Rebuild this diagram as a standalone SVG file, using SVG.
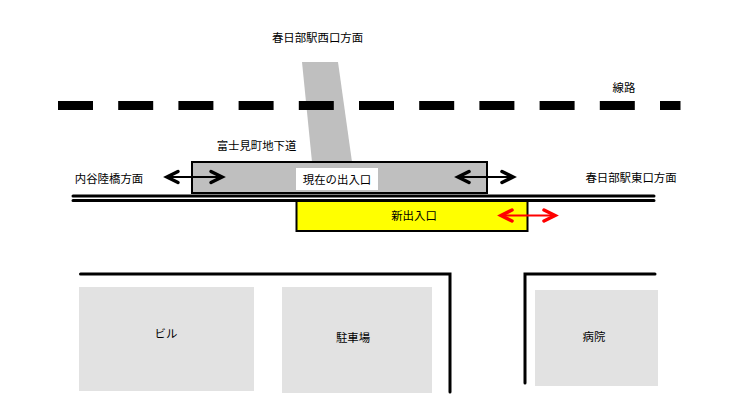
<svg xmlns="http://www.w3.org/2000/svg" width="740" height="413" viewBox="0 0 740 413">
<style>
text{font-family:"Noto Sans CJK JP","Noto Sans",sans-serif;font-size:11.4px;fill:#000;text-anchor:middle}
.rail{fill:none;stroke:#000;stroke-width:9;stroke-dasharray:35 25.2}
.line{fill:none;stroke:#000;stroke-width:3;stroke-linecap:round}
.bld{fill:#e2e2e2}
.arrow{fill:none;stroke-width:2}
.head{fill:none;stroke-width:3.500;stroke-linecap:round;stroke-linejoin:miter}
</style>
<rect width="740" height="413" fill="#fff"/>
<g id="west-passage"><polygon points="302,62 338,62 352,162 312,162" fill="#bfbfbf"/><text x="317.500" y="41.500">春日部駅西口方面</text></g>
<g id="railway"><path class="rail" d="M58 105.500H680.500"/><text x="624" y="91.500">線路</text></g>
<g id="underpass"><rect x="192" y="162" width="295" height="31" fill="#bfbfbf" stroke="#000" stroke-width="2"/><text x="256.500" y="149.500">富士見町地下道</text></g>
<g id="current-entrance"><rect x="296" y="168" width="82" height="22" fill="#fff"/><text x="337" y="183.500">現在の出入口</text></g>
<g id="new-entrance"><rect x="296.500" y="201" width="231" height="30" fill="#ff0" stroke="#000" stroke-width="2"/><text x="414" y="219.500">新出入口</text></g>
<g id="label-west"><text x="109" y="182.500">内谷陸橋方面</text></g>
<g id="label-east"><text x="631" y="181.500">春日部駅東口方面</text></g>
<g id="building"><rect class="bld" x="79" y="287" width="175" height="104"/><text x="166" y="338">ビル</text></g>
<g id="parking"><rect class="bld" x="282" y="287" width="150" height="106"/><text x="353" y="342">駐車場</text></g>
<g id="hospital"><rect class="bld" x="535" y="290" width="123" height="96"/><text x="594" y="341">病院</text></g>
<g id="connectors">
<path class="line" d="M73 196H654M73 200.500H654" stroke-linecap="butt"/>
<path class="line" d="M80.500 274H450V392"/>
<path class="line" d="M655 274H525V383"/>
<g stroke="#000">
<path class="arrow" d="M167 177H222"/>
<path class="head" d="M178 171.500L167 177L178 182.500M211 171.500L222 177L211 182.500"/>
<path class="arrow" d="M458 177H513"/>
<path class="head" d="M469 171.500L458 177L469 182.500M502 171.500L513 177L502 182.500"/>
</g>
<g stroke="#f00">
<path class="arrow" d="M501 215.500H555"/>
<path class="head" d="M512 210L501 215.500L512 221M544 210L555 215.500L544 221"/>
</g>
</g>
</svg>
